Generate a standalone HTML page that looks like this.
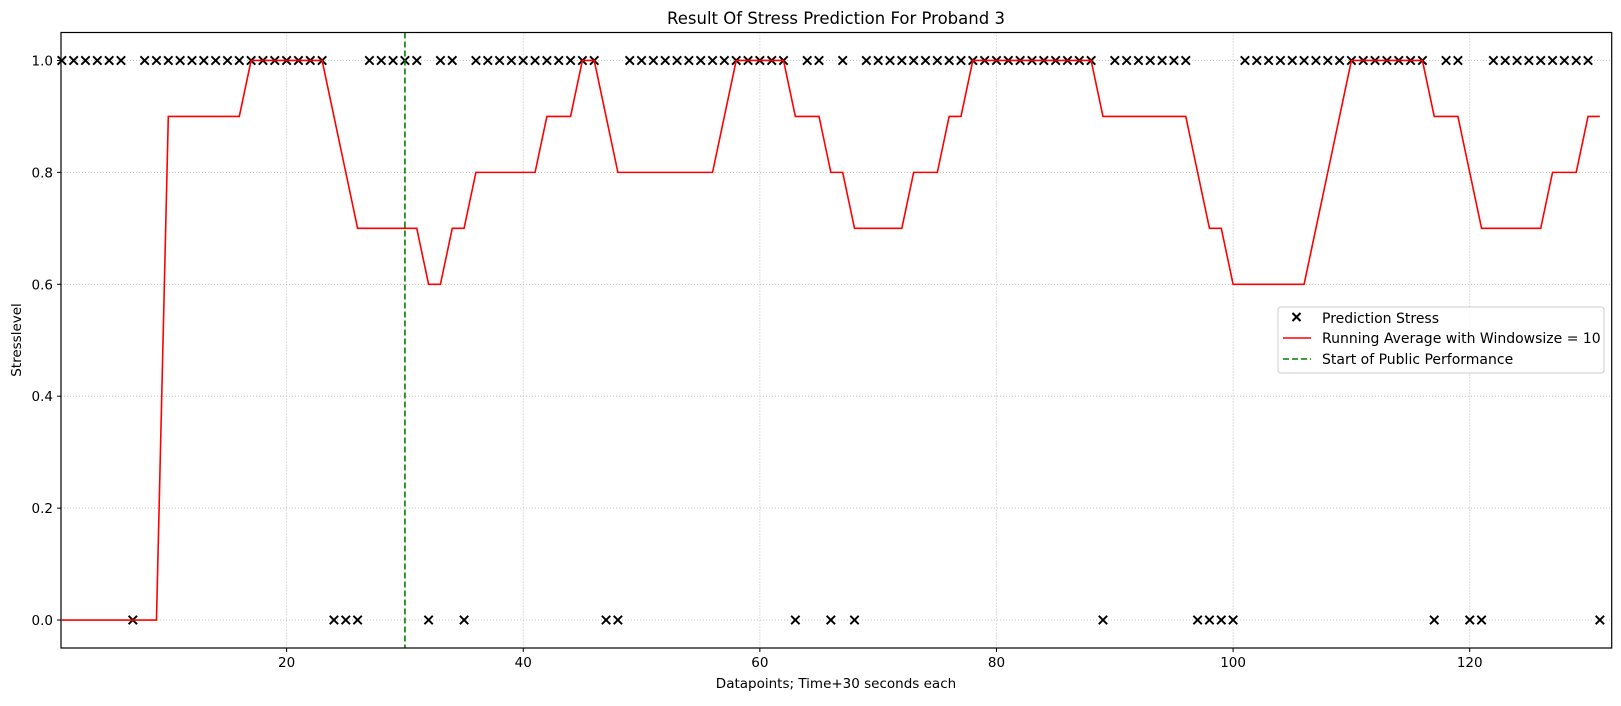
<!DOCTYPE html>
<html><head><meta charset="utf-8"><style>
html,body{margin:0;padding:0;background:#fff;}
svg text{font-family:"DejaVu Sans","Liberation Sans",sans-serif;fill:#000;}
</style></head><body>
<svg id="chart" width="1621" height="701" xmlns="http://www.w3.org/2000/svg">
<rect x="0" y="0" width="1621" height="701" fill="#fff"/>
<text x="836" y="24" font-size="16.5" text-anchor="middle">Result Of Stress Prediction For Proband 3</text>
<g id="grid"></g>
<g id="marks"></g>
<rect x="61" y="32.5" width="1550.7" height="615.5" fill="none" stroke="#000" stroke-width="1.2"/>
<g id="ticks"></g>
<text x="836" y="688" font-size="13.5" text-anchor="middle">Datapoints; Time+30 seconds each</text>
<text transform="translate(21,340) rotate(-90)" font-size="13.5" text-anchor="middle">Stresslevel</text>
<g>
<rect x="1278" y="307" width="326" height="66" rx="3" fill="#fff" fill-opacity="0.8" stroke="#ccc"/>
<g>
<path d="M1292.5 313 L1300.5 321 M1300.5 313 L1292.5 321" stroke="#000" stroke-width="2"/>
<text x="1322" y="323" font-size="14">Prediction Stress</text></g>
<g>
<line x1="1283" y1="338" x2="1311" y2="338" stroke="red" stroke-width="1.6"/>
<text x="1322" y="343" font-size="14">Running Average with Windowsize = 10</text></g>
<g>
<line x1="1283" y1="359" x2="1311" y2="359" stroke="green" stroke-width="1.6" stroke-dasharray="6,3"/>
<text x="1322" y="364" font-size="14">Start of Public Performance</text></g>
</g>
</svg>
<script>
const zeroIndices=[7,24,25,26,32,35,47,48,63,66,68,89,97,98,99,100,117,120,121,131];
const runningAverage=[0,0,0,0,0,0,0,0,0,0.9,0.9,0.9,0.9,0.9,0.9,0.9,1,1,1,1,1,1,1,0.9,0.8,0.7,0.7,0.7,0.7,0.7,0.7,0.6,0.6,0.7,0.7,0.8,0.8,0.8,0.8,0.8,0.8,0.9,0.9,0.9,1,1,0.9,0.8,0.8,0.8,0.8,0.8,0.8,0.8,0.8,0.8,0.9,1,1,1,1,1,0.9,0.9,0.9,0.8,0.8,0.7,0.7,0.7,0.7,0.7,0.8,0.8,0.8,0.9,0.9,1,1,1,1,1,1,1,1,1,1,1,0.9,0.9,0.9,0.9,0.9,0.9,0.9,0.9,0.8,0.7,0.7,0.6,0.6,0.6,0.6,0.6,0.6,0.6,0.7,0.8,0.9,1,1,1,1,1,1,1,0.9,0.9,0.9,0.8,0.7,0.7,0.7,0.7,0.7,0.7,0.8,0.8,0.8,0.9,0.9];
const predictions=runningAverage.map((_,i)=>zeroIndices.includes(i+1)?0:1);
const xTicks=[20,40,60,80,100,120];
const yTicks=[0,0.2,0.4,0.6,0.8,1.0];
const performanceStart=30;
const NS="http://www.w3.org/2000/svg";
const L=61,R=1611.7,T=32.5,B=648,X0=0.93,X1=132.0,Y0=-0.05,Y1=1.05;
const sx=v=>L+(v-X0)/(X1-X0)*(R-L);
const sy=v=>B-(v-Y0)/(Y1-Y0)*(B-T);
function mk(tag,attrs,parent){const e=document.createElementNS(NS,tag);for(const k in attrs)e.setAttribute(k,attrs[k]);parent.appendChild(e);return e;}
const grid=document.getElementById('grid'),ticks=document.getElementById('ticks'),marks=document.getElementById('marks');
xTicks.forEach(t=>{const x=sx(t);
const g=mk('line',{x1:x,y1:T,x2:x,y2:B,stroke:'#b0b0b0','stroke-width':0.8,'stroke-dasharray':'1,2'},grid);


const tk=mk('line',{x1:x,y1:B,x2:x,y2:B+4,stroke:'#000'},ticks);


const tx=mk('text',{x:x,y:B+19,'font-size':13.5,'text-anchor':'middle'},ticks);tx.textContent=t;

});
yTicks.forEach(t=>{const y=sy(t);
const g=mk('line',{x1:L,y1:y,x2:R,y2:y,stroke:'#b0b0b0','stroke-width':0.8,'stroke-dasharray':'1,2'},grid);


const tk=mk('line',{x1:L-4,y1:y,x2:L,y2:y,stroke:'#000'},ticks);


const tx=mk('text',{x:L-8,y:y+5,'font-size':13.5,'text-anchor':'end'},ticks);tx.textContent=t.toFixed(1);

});
predictions.forEach((v,i)=>{const x=sx(i+1),y=sy(v),s=4.2;
const p=mk('path',{d:`M${x-s} ${y-s}L${x+s} ${y+s}M${x+s} ${y-s}L${x-s} ${y+s}`,stroke:'#000','stroke-width':1.9},marks);

});
const line=mk('polyline',{points:runningAverage.map((v,i)=>sx(i+1)+','+sy(v)).join(' '),fill:'none',stroke:'red','stroke-width':1.6},marks);


const vl=mk('line',{x1:sx(performanceStart),y1:T,x2:sx(performanceStart),y2:B,stroke:'green','stroke-width':1.6,'stroke-dasharray':'6,3'},marks);


</script>
</body></html>
